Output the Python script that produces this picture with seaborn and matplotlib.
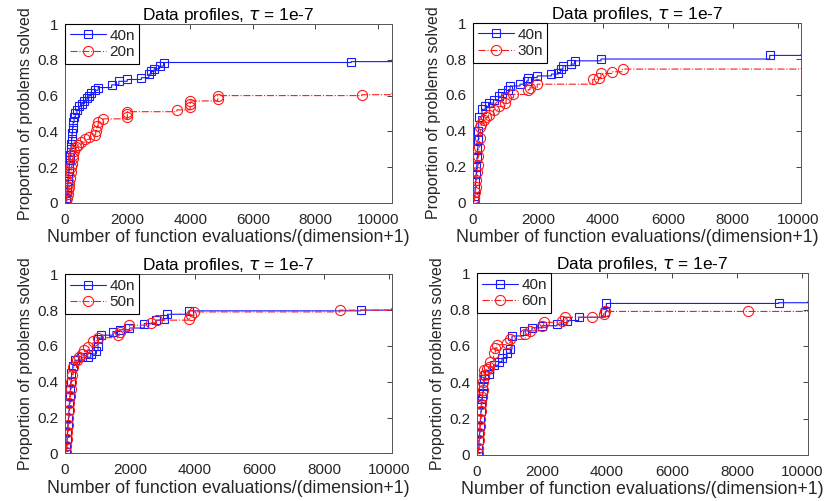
import matplotlib
matplotlib.use("Agg")
import matplotlib.pyplot as plt
import seaborn as sns
import pandas as pd
from matplotlib.ticker import FuncFormatter

# ---------------- data ----------------
title_text = "Data profiles, $\\tau$ = 1e-7"
xlabel_text = "Number of function evaluations/(dimension+1)"
ylabel_text = "Proportion of problems solved"
x_ticks = [0, 2000, 4000, 6000, 8000, 10000]
y_ticks = [0, 0.2, 0.4, 0.6, 0.8, 1.0]

# panel 1: 40n vs 20n
p1_40n_x = [30, 45, 60, 75, 90, 105, 120, 135, 150, 165, 180, 195, 210, 225, 240, 260, 290, 330, 380, 450, 530, 620, 700, 760, 830, 950, 1060, 1490, 1720, 1990, 2440, 2680, 2760, 2850, 3020, 3150, 9150, 10450]
p1_40n_y = [0.01, 0.03, 0.06, 0.09, 0.12, 0.15, 0.18, 0.21, 0.24, 0.27, 0.30, 0.33, 0.36, 0.39, 0.42, 0.45, 0.48, 0.50, 0.52, 0.54, 0.555, 0.57, 0.585, 0.60, 0.615, 0.63, 0.645, 0.66, 0.68, 0.69, 0.70, 0.72, 0.735, 0.75, 0.765, 0.785, 0.79, 0.80]
p1_20n_x = [40, 60, 80, 100, 120, 140, 160, 180, 200, 220, 240, 265, 300, 350, 424, 520, 636, 780, 954, 980, 1007, 1060, 1220, 1993, 1993, 1993, 3574, 4000, 4000, 4000, 4880, 4880, 9490, 10450]
p1_20n_y = [0.01, 0.03, 0.05, 0.07, 0.09, 0.11, 0.14, 0.17, 0.20, 0.22, 0.25, 0.27, 0.29, 0.31, 0.325, 0.34, 0.355, 0.37, 0.38, 0.40, 0.43, 0.45, 0.47, 0.48, 0.495, 0.51, 0.52, 0.535, 0.555, 0.57, 0.58, 0.60, 0.605, 0.62]

# panel 2: 40n vs 30n
p2_40n_x = [30, 45, 60, 75, 90, 105, 120, 135, 150, 165, 173, 275, 377, 479, 631, 784, 886, 1090, 1141, 1446, 1650, 1700, 1976, 2413, 2617, 2699, 2770, 3024, 3126, 3940, 9134, 10100]
p2_40n_y = [0.01, 0.04, 0.08, 0.12, 0.16, 0.20, 0.25, 0.30, 0.35, 0.40, 0.48, 0.52, 0.537, 0.555, 0.574, 0.593, 0.612, 0.63, 0.65, 0.66, 0.678, 0.697, 0.706, 0.716, 0.725, 0.744, 0.763, 0.772, 0.79, 0.80, 0.82, 0.825]
p2_30n_x = [20, 40, 60, 80, 100, 120, 140, 160, 180, 200, 224, 250, 326, 400, 479, 631, 784, 987, 1018, 1242, 1700, 1752, 1976, 3686, 3890, 3940, 4277, 4603, 10100]
p2_30n_y = [0.01, 0.03, 0.06, 0.09, 0.13, 0.17, 0.21, 0.26, 0.31, 0.36, 0.42, 0.44, 0.46, 0.475, 0.49, 0.518, 0.537, 0.555, 0.584, 0.603, 0.63, 0.64, 0.66, 0.687, 0.697, 0.72, 0.729, 0.744, 0.75]

# panel 3: 40n vs 50n
p3_40n_x = [30, 45, 60, 75, 90, 105, 120, 135, 150, 165, 180, 200, 240, 306, 510, 714, 796, 969, 1020, 1020, 1122, 1480, 1684, 1990, 2449, 2806, 3061, 3163, 3827, 9133, 10100]
p3_40n_y = [0.01, 0.04, 0.08, 0.12, 0.16, 0.20, 0.24, 0.28, 0.32, 0.36, 0.40, 0.45, 0.49, 0.52, 0.537, 0.537, 0.555, 0.574, 0.60, 0.64, 0.66, 0.68, 0.69, 0.70, 0.725, 0.744, 0.753, 0.777, 0.796, 0.80, 0.81]
p3_50n_x = [30, 45, 60, 75, 90, 105, 120, 135, 150, 170, 190, 215, 255, 357, 430, 510, 600, 714, 867, 1020, 1633, 1684, 1990, 2653, 2837, 3827, 3878, 3980, 8490, 10100]
p3_50n_y = [0.01, 0.04, 0.08, 0.12, 0.16, 0.20, 0.24, 0.28, 0.32, 0.36, 0.40, 0.44, 0.48, 0.52, 0.54, 0.555, 0.575, 0.593, 0.63, 0.646, 0.66, 0.68, 0.716, 0.729, 0.744, 0.753, 0.77, 0.79, 0.80, 0.81]

# panel 4: 40n vs 60n
p4_40n_x = [30, 45, 60, 75, 90, 105, 120, 135, 150, 170, 190, 220, 260, 359, 513, 667, 769, 923, 1026, 1077, 1436, 1692, 2000, 2462, 2769, 3128, 3949, 3980, 9282, 10185]
p4_40n_y = [0.01, 0.04, 0.08, 0.12, 0.16, 0.20, 0.24, 0.28, 0.31, 0.34, 0.38, 0.42, 0.44, 0.447, 0.494, 0.513, 0.532, 0.56, 0.583, 0.655, 0.683, 0.70, 0.711, 0.72, 0.74, 0.758, 0.787, 0.834, 0.838, 0.845]
p4_60n_x = [30, 45, 60, 75, 90, 105, 120, 135, 150, 170, 190, 210, 230, 300, 359, 410, 513, 564, 615, 923, 1026, 1487, 1641, 2000, 2051, 2615, 2718, 3538, 3897, 3949, 8340, 10185]
p4_60n_y = [0.01, 0.04, 0.08, 0.12, 0.16, 0.20, 0.24, 0.28, 0.32, 0.36, 0.40, 0.44, 0.47, 0.475, 0.485, 0.513, 0.56, 0.589, 0.607, 0.617, 0.636, 0.664, 0.683, 0.711, 0.73, 0.74, 0.758, 0.758, 0.777, 0.79, 0.79, 0.80]

panels = [
    ("40n", p1_40n_x, p1_40n_y, "20n", p1_20n_x, p1_20n_y, 10450),
    ("40n", p2_40n_x, p2_40n_y, "30n", p2_30n_x, p2_30n_y, 10100),
    ("40n", p3_40n_x, p3_40n_y, "50n", p3_50n_x, p3_50n_y, 10100),
    ("40n", p4_40n_x, p4_40n_y, "60n", p4_60n_x, p4_60n_y, 10185),
]

# axes rectangles [left, bottom, width, height] in figure fractions
rects = [
    [0.0786, 0.595, 0.3954, 0.357],
    [0.572, 0.595, 0.3966, 0.359],
    [0.0786, 0.095, 0.3954, 0.3575],
    [0.5768, 0.092, 0.4002, 0.3625],
]

# ---------------- plotting ----------------
sns.set_style("white")
plt.rcParams["font.family"] = ["Liberation Sans", "DejaVu Sans"]
plt.rcParams["mathtext.fontset"] = "dejavusans"

fig = plt.figure(figsize=(8.27, 5.01), dpi=100)
gray = "#262626"

def fmt(v, pos):
    if abs(v - round(v)) < 1e-9:
        return "%d" % round(v)
    return "%g" % v

for rect, (l1, x1, y1, l2, x2, y2, xmax) in zip(rects, panels):
    ax = fig.add_axes(rect)
    d1 = pd.DataFrame({"x": x1, "y": y1})
    d2 = pd.DataFrame({"x": x2, "y": y2})
    sns.lineplot(data=d1, x="x", y="y", ax=ax, estimator=None, sort=False,
                 drawstyle="steps-post", color=(0.1, 0.1, 1.0), linestyle="-",
                 linewidth=0.8, marker="s", markersize=6.3,
                 markerfacecolor="none", markeredgecolor=(0.1, 0.1, 1.0),
                 markeredgewidth=0.8, markevery=slice(0, len(x1) - 1),
                 label=l1, snap=False)
    sns.lineplot(data=d2, x="x", y="y", ax=ax, estimator=None, sort=False,
                 drawstyle="steps-post", color=(1.0, 0.1, 0.1), linestyle="-.",
                 linewidth=0.8, marker="o", markersize=7.3,
                 markerfacecolor="none", markeredgecolor=(1.0, 0.1, 0.1),
                 markeredgewidth=0.8, markevery=slice(0, len(x2) - 1),
                 label=l2, snap=False)
    ax.set_xlim(0, xmax)
    ax.set_ylim(0, 1)
    ax.set_xticks(x_ticks)
    ax.set_yticks(y_ticks)
    ax.yaxis.set_major_formatter(FuncFormatter(fmt))
    ax.tick_params(direction="in", top=True, right=True, length=3.5,
                   width=0.6, colors=gray, labelsize=11)
    ax.tick_params(axis="x", pad=7)
    ax.tick_params(axis="y", pad=5)
    for s in ax.spines.values():
        s.set_color("#555555")
        s.set_linewidth(0.7)
        s.set_visible(True)
    ax.set_xlabel(xlabel_text, fontsize=12.8, color=gray, labelpad=2)
    ax.set_ylabel(ylabel_text, fontsize=11.5, color=gray, labelpad=3)
    ax.set_title(title_text, fontsize=12.4, color="black", pad=3)
    leg = ax.legend(loc="upper left", borderaxespad=0, fancybox=False,
                    frameon=True, edgecolor="black", fontsize=11,
                    handlelength=2.4, handletextpad=0.2, labelspacing=0.15,
                    borderpad=0.3)
    leg.get_frame().set_linewidth(0.8)
    leg.get_frame().set_alpha(1)

fig.savefig("out.png", dpi=100)
